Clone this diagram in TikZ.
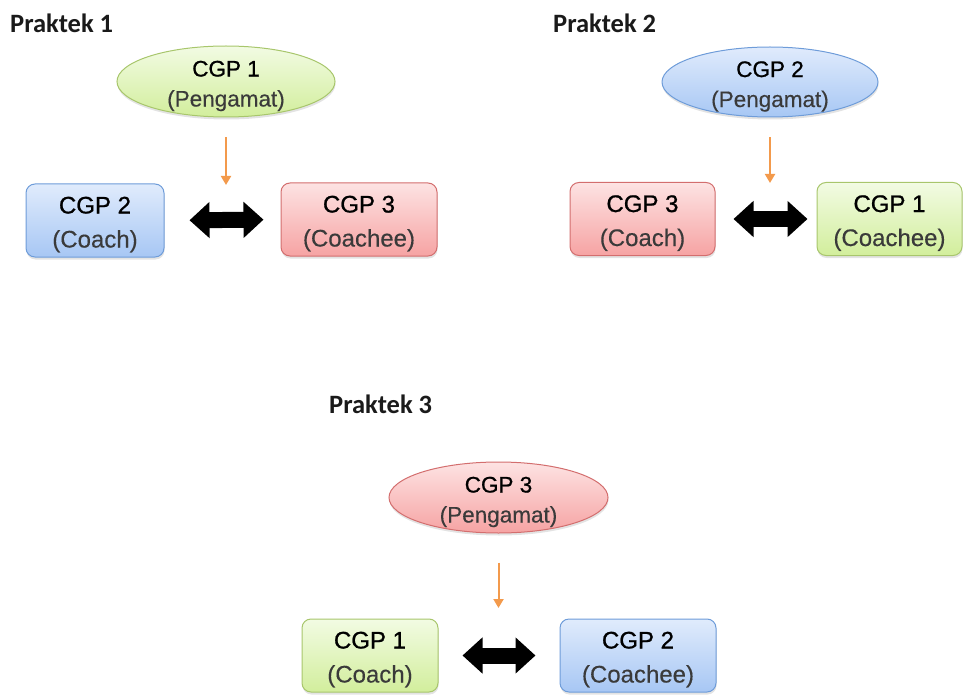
\documentclass[tikz,border=0pt]{standalone}
\usepackage{fontspec}
\setmainfont{Liberation Sans}
\newfontfamily\lblfont{Carlito}
\newfontfamily\heavyfont{Liberation Sans}[FakeBold=0.9]
\newfontfamily\subfont{Liberation Sans}[FakeBold=0.3]
\usetikzlibrary{shadows,arrows.meta,shapes.geometric}
\definecolor{gTop}{HTML}{F2FBE3}\definecolor{gBot}{HTML}{D2EE9C}\definecolor{gLine}{HTML}{A8C66C}
\definecolor{bTop}{HTML}{E0EBFC}\definecolor{bBot}{HTML}{A7C7F4}\definecolor{bLine}{HTML}{6E9CD9}
\definecolor{rTop}{HTML}{FDE3E3}\definecolor{rBot}{HTML}{F6A3A3}\definecolor{rLine}{HTML}{D36E6E}
\definecolor{oArr}{HTML}{F39A4C}
\definecolor{subtxt}{HTML}{3A3A3A}
\definecolor{ttl}{HTML}{1A1A1A}
\newcommand\tstrut[1]{\rule{0pt}{#1}}
\newcommand\obstext[1]{{\heavyfont #1}\\{\subfont\color{subtxt}(Pengamat)}}
\newcommand\roletext[2]{\tstrut{25pt}{\heavyfont #1}\\{\subfont\color{subtxt}(#2)}}
\tikzset{
  base/.style={line width=1pt, drop shadow={shadow xshift=0.5pt, shadow yshift=-2.5pt, opacity=0.22}, align=center, inner sep=0pt},
  obs/.style={base, ellipse, minimum width=218pt, minimum height=71pt},
  obstxt/.style={align=center, inner sep=0pt, font=\fontsize{22.5}{30}\selectfont},
  role/.style={base, rounded corners=9pt, minimum height=73pt, font=\fontsize{24}{34}\selectfont},
  gfill/.style={top color=gTop, bottom color=gBot, draw=gLine},
  bfill/.style={top color=bTop, bottom color=bBot, draw=bLine},
  rfill/.style={top color=rTop, bottom color=rBot, draw=rLine},
  ttlnode/.style={anchor=base west, inner sep=0pt, text=ttl, font=\lblfont\bfseries\fontsize{26.5}{30}\selectfont},
  oarr/.style={draw=oArr, line width=2pt, -{Triangle[length=9pt,width=10pt]}},
  dbl/.style={draw=black, line width=16pt, {Triangle[length=20pt,width=35pt]}-{Triangle[length=20pt,width=35pt]}}
}
\begin{document}
\begin{tikzpicture}[x=1pt,y=-1pt]
\useasboundingbox (0,0) rectangle (963,695);

% Praktek 1
\node[ttlnode] (h1) at (10,33) {Praktek 1};
\node[obs, gfill] (p1) at (226,81.5) {};
\node[obstxt] (p1t) at ([yshift=-4.5pt]p1.center) {\obstext{CGP 1}};
\node[role, bfill, minimum width=138pt] (c2) at (95,220.5) {\roletext{CGP 2}{Coach}};
\node[role, rfill, minimum width=156pt] (e3) at (359,219.5) {\roletext{CGP 3}{Coachee}};
\coordinate (t1) at (226,185);
\draw[oarr, shorten <=20pt] (p1.south) -- (t1);
\draw[dbl, shorten <=25pt, shorten >=17pt] (c2.east) -- (e3.west);

% Praktek 2
\node[ttlnode] (h2) at (553,33) {Praktek 2};
\node[obs, bfill, minimum width=216pt, minimum height=70pt] (p2) at (770,82) {};
\node[obstxt] (p2t) at ([yshift=-4.5pt]p2.center) {\obstext{CGP 2}};
\node[role, rfill, minimum width=145pt] (c3) at (642.5,219) {\roletext{CGP 3}{Coach}};
\node[role, gfill, minimum width=145pt] (e1) at (889.5,219) {\roletext{CGP 1}{Coachee}};
\coordinate (t2) at (770,183);
\draw[oarr, shorten <=20pt] (p2.south) -- (t2);
\draw[dbl, shorten <=18pt, shorten >=9pt] (c3.east) -- (e1.west);

% Praktek 3
\node[ttlnode] (h3) at (329,413) {Praktek 3};
\node[obs, rfill, minimum width=219pt] (p3) at (498.5,497.5) {};
\node[obstxt] (p3t) at ([yshift=-4.5pt]p3.center) {\obstext{CGP 3}};
\node[role, gfill, minimum width=136pt] (c1) at (370,655.5) {\roletext{CGP 1}{Coach}};
\node[role, bfill, minimum width=156pt] (e2) at (638,655.5) {\roletext{CGP 2}{Coachee}};
\coordinate (t3) at (498.5,608);
\draw[oarr, shorten <=29pt] (p3.south) -- (t3);
\draw[dbl, shorten <=24pt, shorten >=24pt] (c1.east) -- (e2.west);
\end{tikzpicture}
\end{document}
